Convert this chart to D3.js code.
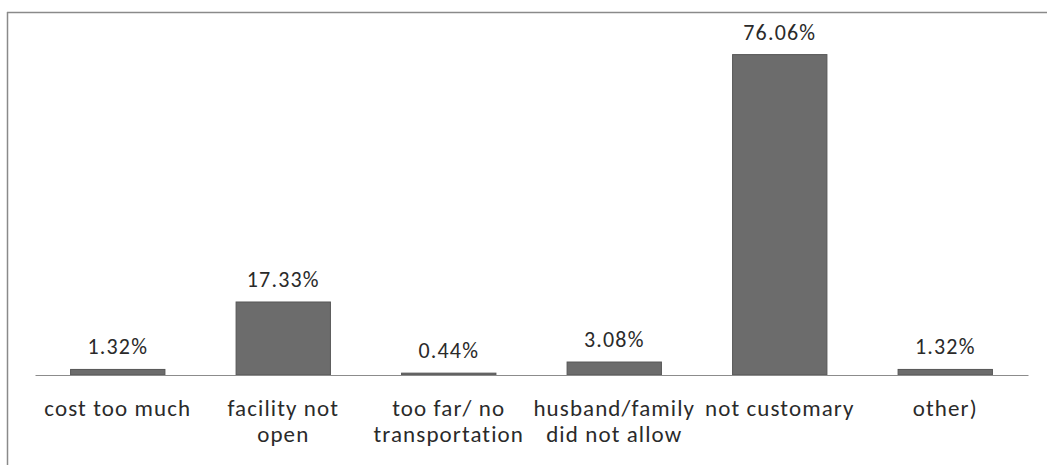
<!DOCTYPE html>
<html>
<head>
<meta charset="utf-8">
<script src="https://cdn.jsdelivr.net/npm/d3@7"></script>
<style>
html,body{margin:0;padding:0;background:#fff;}
svg{display:block;}
text{font-family:"Carlito","Lato","Open Sans",sans-serif;fill:#2a2a2a;}
</style>
</head>
<body>
<svg id="chart" width="1047" height="465"></svg>
<script>
const categories = ["cost too much", "facility not open", "too far/ no transportation", "husband/family did not allow", "not customary", "other)"];
const categoryLines = [["cost too much"], ["facility not", "open"], ["too far/ no", "transportation"], ["husband/family", "did not allow"], ["not customary"], ["other)"]];
const values = [1.32, 17.33, 0.44, 3.08, 76.06, 1.32];
const valueLabels = ["1.32%", "17.33%", "0.44%", "3.08%", "76.06%", "1.32%"];

const svg = d3.select("#chart");
const W = 1047, H = 465;
const margin = {left: 35, right: 19, baseline: 375};

// frame (top and left edges only, as in the scan)
svg.append("line").attr("x1", 7).attr("x2", W).attr("y1", 12.5).attr("y2", 12.5)
  .attr("stroke", "#8a8a8a").attr("stroke-width", 1.5);
svg.append("line").attr("x1", 7.5).attr("x2", 7.5).attr("y1", 12).attr("y2", H)
  .attr("stroke", "#8a8a8a").attr("stroke-width", 1.5);

const x = d3.scaleBand().domain(categories)
  .range([margin.left, W - margin.right])
  .paddingInner(0.43).paddingOuter(0.215);

const y = d3.scaleLinear().domain([0, 80]).range([margin.baseline, 38]);

// bars
svg.append("g").selectAll("rect").data(categories).join("rect")
  .attr("x", d => x(d))
  .attr("width", x.bandwidth())
  .attr("y", (d, i) => y(values[i]))
  .attr("height", (d, i) => Math.max(1, y(0) - y(values[i])))
  .attr("fill", "#6c6c6c")
  .attr("stroke", "#565656")
  .attr("stroke-width", 1);

// axis (no ticks)
const xAxis = d3.axisBottom(x).tickSize(0).tickFormat("");
const ax = svg.append("g").attr("transform", `translate(0,${margin.baseline})`).call(xAxis);
ax.select(".domain").attr("stroke", "#8c8c8c").attr("stroke-width", 1);

// value labels
svg.append("g").selectAll("text").data(categories).join("text")
  .attr("x", d => x(d) + x.bandwidth() / 2)
  .attr("y", (d, i) => y(values[i]) - 15)
  .attr("text-anchor", "middle")
  .attr("font-size", 22)
  .attr("letter-spacing", 1.2)
  .text((d, i) => valueLabels[i]);

// category labels
const cat = svg.append("g").selectAll("text").data(categories).join("text")
  .attr("x", d => x(d) + x.bandwidth() / 2)
  .attr("y", 416)
  .attr("text-anchor", "middle")
  .attr("font-size", 23)
  .attr("letter-spacing", 1.1);
cat.each(function(d, i) {
  const t = d3.select(this);
  categoryLines[i].forEach((ln, j) => {
    t.append("tspan").attr("x", x(d) + x.bandwidth() / 2).attr("dy", j === 0 ? 0 : 26).text(ln);
  });
});
</script>
</body>
</html>
